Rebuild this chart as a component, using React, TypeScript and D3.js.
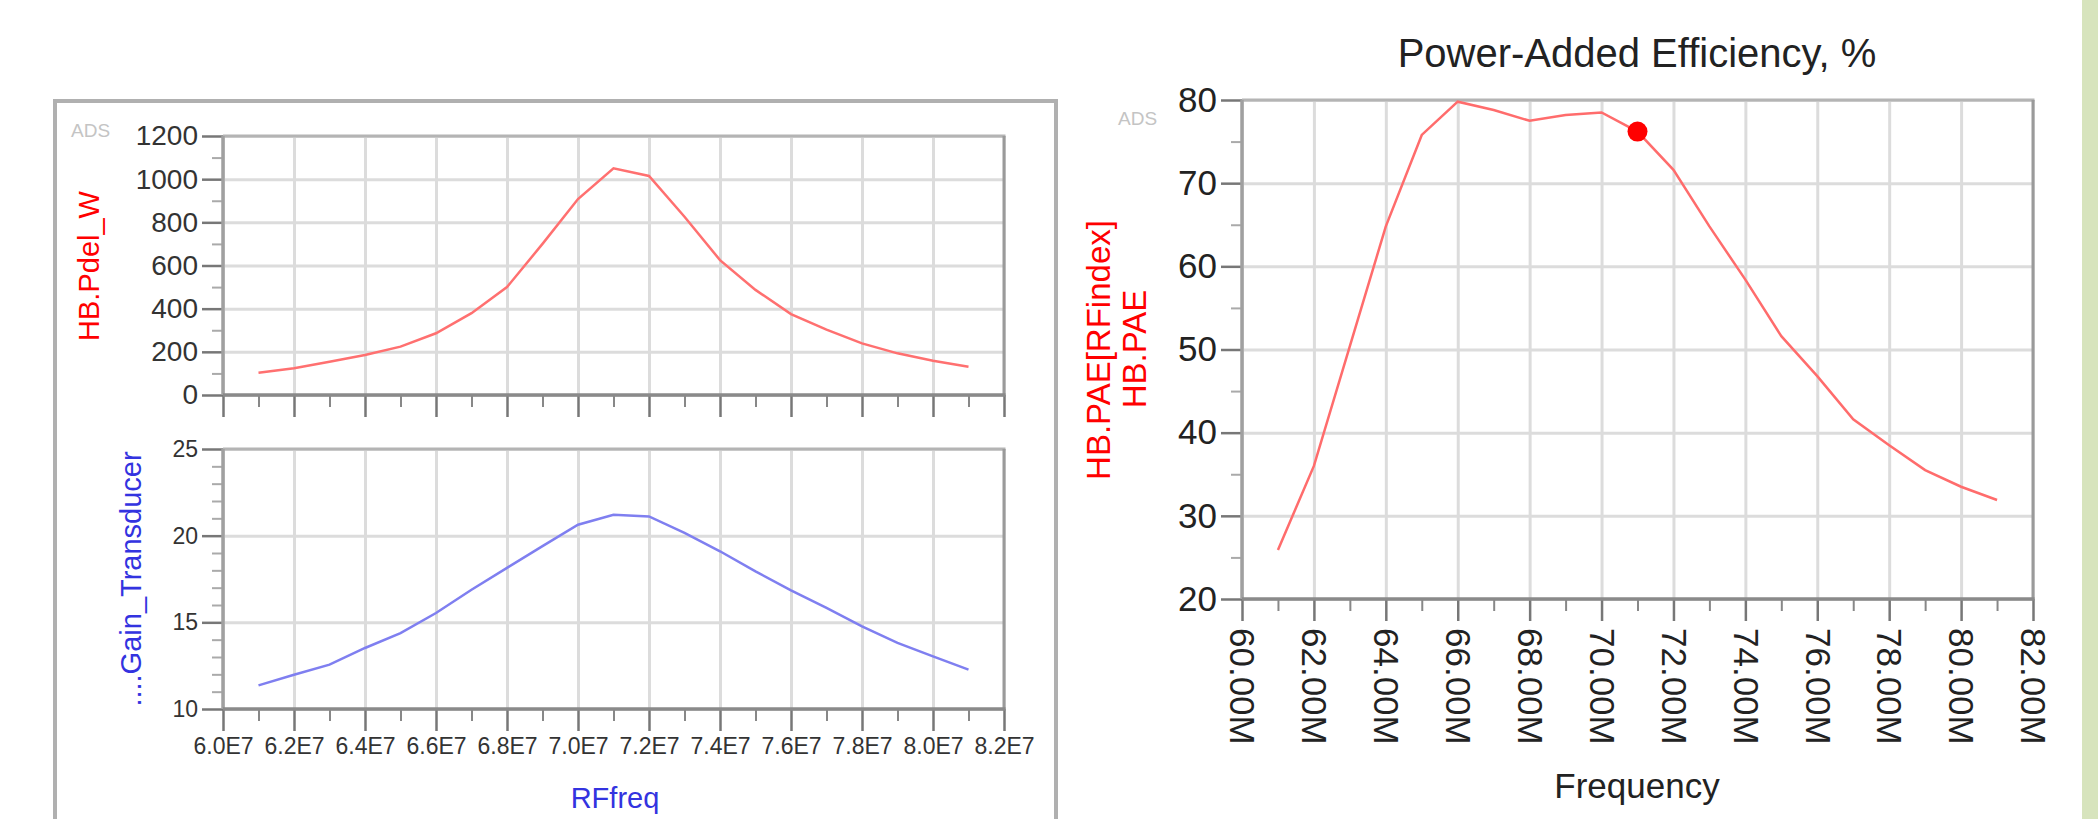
import * as d3 from 'd3';
import React, { useEffect, useRef } from 'react';

// left panel: sweep over RFfreq (Hz)
const rfFreq = [6.1e7, 6.2e7, 6.3e7, 6.4e7, 6.5e7, 6.6e7, 6.7e7, 6.8e7, 6.9e7, 7.0e7, 7.1e7, 7.2e7, 7.3e7, 7.4e7, 7.5e7, 7.6e7, 7.7e7, 7.8e7, 7.9e7, 8.0e7, 8.1e7];
const pdelW = [103, 124, 154, 185, 224, 286, 379, 500, 700, 908, 1050, 1015, 826, 625, 487, 375, 303, 239, 193, 159, 131];
const gainTransducer = [11.36, 11.98, 12.56, 13.52, 14.38, 15.54, 16.88, 18.14, 19.4, 20.63, 21.21, 21.11, 20.16, 19.1, 17.94, 16.84, 15.83, 14.77, 13.81, 13.04, 12.27];
const rfTicks = [6.0e7, 6.2e7, 6.4e7, 6.6e7, 6.8e7, 7.0e7, 7.2e7, 7.4e7, 7.6e7, 7.8e7, 8.0e7, 8.2e7];
const rfMinor = [6.1e7, 6.3e7, 6.5e7, 6.7e7, 6.9e7, 7.1e7, 7.3e7, 7.5e7, 7.7e7, 7.9e7, 8.1e7];
const pdelTicks = [0, 200, 400, 600, 800, 1000, 1200];
const pdelMinor = [100, 300, 500, 700, 900, 1100];
const gainTicks = [10, 15, 20, 25];
const gainMinor = [11, 12, 13, 14, 16, 17, 18, 19, 21, 22, 23, 24];

// right panel: PAE vs frequency (MHz)
const frequencyMHz = [61, 62, 63, 64, 65, 66, 67, 68, 69, 70, 71, 72, 73, 74, 75, 76, 77, 78, 79, 80, 81];
const paePercent = [25.9, 36, 50.4, 64.8, 75.8, 79.8, 78.8, 77.5, 78.2, 78.5, 76.2, 71.6, 64.8, 58.4, 51.6, 46.8, 41.6, 38.5, 35.5, 33.5, 31.9];
const markerMHz = [71];
const markerPae = [76.2];
const freqTicks = [60, 62, 64, 66, 68, 70, 72, 74, 76, 78, 80, 82];
const freqMinor = [61, 63, 65, 67, 69, 71, 73, 75, 77, 79, 81];
const paeTicks = [20, 30, 40, 50, 60, 70, 80];
const paeMinor = [25, 35, 45, 55, 65, 75];

const FONT = '"Liberation Sans", Arial, sans-serif';
const RED = '#ff0000';
const BLUE = '#3333e0';

function plotFrame(g, x, y, o) {
  const [xa, xb] = x.range();
  const [yb, ya] = y.range();
  const noLabel = () => '';
  const clean = (s) => s.select('.domain').remove();

  // grid
  g.append('g')
    .attr('transform', `translate(0,${yb})`)
    .call(d3.axisBottom(x).tickValues(o.xTicks).tickSize(-(yb - ya)).tickFormat(noLabel))
    .call(clean)
    .selectAll('line').attr('stroke', '#dcdcdc').attr('stroke-width', 3);
  g.append('g')
    .attr('transform', `translate(${xa},0)`)
    .call(d3.axisLeft(y).tickValues(o.yTicks).tickSize(-(xb - xa)).tickFormat(noLabel))
    .call(clean)
    .selectAll('line').attr('stroke', '#dcdcdc').attr('stroke-width', 3);

  // border
  g.append('line').attr('x1', xa).attr('x2', xb + 1.5).attr('y1', ya).attr('y2', ya)
    .attr('stroke', '#b4b4b4').attr('stroke-width', 3);
  g.append('line').attr('x1', xb).attr('x2', xb).attr('y1', ya).attr('y2', yb)
    .attr('stroke', '#9a9a9a').attr('stroke-width', 3);

  // minor ticks
  g.append('g')
    .attr('transform', `translate(${xa},0)`)
    .call(d3.axisLeft(y).tickValues(o.yMinor).tickSize(11).tickFormat(noLabel))
    .call(clean)
    .selectAll('line').attr('stroke', '#aaa').attr('stroke-width', 2);
  g.append('g')
    .attr('transform', `translate(0,${yb})`)
    .call(d3.axisBottom(x).tickValues(o.xMinor).tickSize(12).tickFormat(noLabel))
    .call(clean)
    .selectAll('line').attr('stroke', '#888').attr('stroke-width', 2);

  // major ticks + labels
  const ya2 = g.append('g')
    .attr('transform', `translate(${xa},0)`)
    .call(d3.axisLeft(y).tickValues(o.yTicks).tickSize(21).tickPadding(4).tickFormat(d => String(d)))
    .call(clean);
  ya2.selectAll('line').attr('stroke', '#777').attr('stroke-width', 2.5);
  ya2.selectAll('text').attr('font-family', FONT).attr('font-size', o.yFont).attr('fill', '#333');

  const xa2 = g.append('g')
    .attr('transform', `translate(0,${yb})`)
    .call(d3.axisBottom(x).tickValues(o.xTicks).tickSize(22).tickFormat(o.xFormat || noLabel))
    .call(clean);
  xa2.selectAll('line').attr('stroke', '#777').attr('stroke-width', 2.5);
  xa2.selectAll('text').attr('font-family', FONT).attr('font-size', o.xFont || 20).attr('fill', '#333');

  // axis lines
  g.append('line').attr('x1', xa).attr('x2', xa).attr('y1', ya).attr('y2', yb)
    .attr('stroke', '#a0a0a0').attr('stroke-width', 3.5);
  g.append('line').attr('x1', xa).attr('x2', xb + 1.5).attr('y1', yb).attr('y2', yb)
    .attr('stroke', '#8a8a8a').attr('stroke-width', 3.5);

  return xa2;
}

function Charts() {
  const svgRef = useRef(null);

  useEffect(() => {
    const svg = d3.select(svgRef.current);
    svg.selectAll('*').remove();

    // green strip at the right edge
    svg.append('rect').attr('x', 2082).attr('y', 0).attr('width', 16).attr('height', 819).attr('fill', '#d7e4bd');

    // left panel frame
    svg.append('path')
      .attr('d', 'M55,819 V101 H1056 V819')
      .attr('fill', 'none').attr('stroke', '#b0b0b0').attr('stroke-width', 4);

    const xRf = d3.scaleLinear().domain([6.0e7, 8.2e7]).range([223, 1004]);

    // Pdel
    const yPdel = d3.scaleLinear().domain([0, 1200]).range([395, 136]);
    const gTop = svg.append('g');
    plotFrame(gTop, xRf, yPdel, {
      xTicks: rfTicks, xMinor: rfMinor, yTicks: pdelTicks, yMinor: pdelMinor, yFont: 28,
    });
    gTop.append('path')
      .datum(rfFreq.map((f, i) => [f, pdelW[i]]))
      .attr('fill', 'none').attr('stroke', '#ff7070').attr('stroke-width', 2.5)
      .attr('d', d3.line().x(d => xRf(d[0])).y(d => yPdel(d[1])));

    // Gain
    const yGain = d3.scaleLinear().domain([10, 25]).range([709, 449]);
    const gBot = svg.append('g');
    plotFrame(gBot, xRf, yGain, {
      xTicks: rfTicks, xMinor: rfMinor, yTicks: gainTicks, yMinor: gainMinor, yFont: 23,
      xFormat: d => (d / 1e7).toFixed(1) + 'E7', xFont: 23,
    }).selectAll('text').attr('y', 29).attr('dy', '0.71em');
    gBot.append('path')
      .datum(rfFreq.map((f, i) => [f, gainTransducer[i]]))
      .attr('fill', 'none').attr('stroke', '#7f7ff0').attr('stroke-width', 2.5)
      .attr('d', d3.line().x(d => xRf(d[0])).y(d => yGain(d[1])));

    // left labels
    svg.append('text').attr('transform', 'translate(99,266) rotate(-90)')
      .attr('text-anchor', 'middle').attr('font-family', FONT).attr('font-size', 29).attr('fill', RED)
      .text('HB.Pdel_W');
    svg.append('text').attr('transform', 'translate(141,579) rotate(-90)')
      .attr('text-anchor', 'middle').attr('font-family', FONT).attr('font-size', 29).attr('fill', BLUE)
      .text('....Gain_Transducer');
    svg.append('text').attr('x', 615).attr('y', 808)
      .attr('text-anchor', 'middle').attr('font-family', FONT).attr('font-size', 29).attr('fill', BLUE)
      .text('RFfreq');
    svg.append('text').attr('x', 71).attr('y', 137)
      .attr('font-family', FONT).attr('font-size', 19).attr('fill', '#c4c4c4').text('ADS');

    // PAE
    const xF = d3.scaleLinear().domain([60, 82]).range([1242, 2033]);
    const yP = d3.scaleLinear().domain([20, 80]).range([599, 100]);
    const gR = svg.append('g');
    plotFrame(gR, xF, yP, {
      xTicks: freqTicks, xMinor: freqMinor, yTicks: paeTicks, yMinor: paeMinor, yFont: 35,
      xFormat: d => d.toFixed(2) + 'M', xFont: 35,
    }).selectAll('text')
      .attr('transform', 'rotate(90)')
      .attr('x', 29).attr('y', 0).attr('dy', '0.35em')
      .attr('text-anchor', 'start');
    gR.selectAll('.tick text').attr('fill', '#222');
    gR.append('path')
      .datum(frequencyMHz.map((f, i) => [f, paePercent[i]]))
      .attr('fill', 'none').attr('stroke', '#ff6c6c').attr('stroke-width', 2.5)
      .attr('d', d3.line().x(d => xF(d[0])).y(d => yP(d[1])));
    gR.selectAll('.marker')
      .data(markerMHz.map((f, i) => [f, markerPae[i]]))
      .join('circle')
      .attr('class', 'marker')
      .attr('cx', d => xF(d[0])).attr('cy', d => yP(d[1])).attr('r', 10).attr('fill', RED);

    svg.append('text').attr('x', 1637).attr('y', 67)
      .attr('text-anchor', 'middle').attr('font-family', FONT).attr('font-size', 40).attr('fill', '#222')
      .text('Power-Added Efficiency, %');
    svg.append('text').attr('x', 1637).attr('y', 798)
      .attr('text-anchor', 'middle').attr('font-family', FONT).attr('font-size', 35).attr('fill', '#222')
      .text('Frequency');
    svg.append('text').attr('transform', 'translate(1110,350) rotate(-90)')
      .attr('text-anchor', 'middle').attr('font-family', FONT).attr('font-size', 33).attr('fill', RED)
      .text('HB.PAE[RFindex]');
    svg.append('text').attr('transform', 'translate(1146,349) rotate(-90)')
      .attr('text-anchor', 'middle').attr('font-family', FONT).attr('font-size', 33).attr('fill', RED)
      .text('HB.PAE');
    svg.append('text').attr('x', 1118).attr('y', 125)
      .attr('font-family', FONT).attr('font-size', 19).attr('fill', '#c4c4c4').text('ADS');
  }, []);

  return <svg ref={svgRef} width={2098} height={819} style={{ position: 'absolute', left: 0, top: 0, background: '#fff' }} />;
}

export default function App() {
  return <Charts />;
}
